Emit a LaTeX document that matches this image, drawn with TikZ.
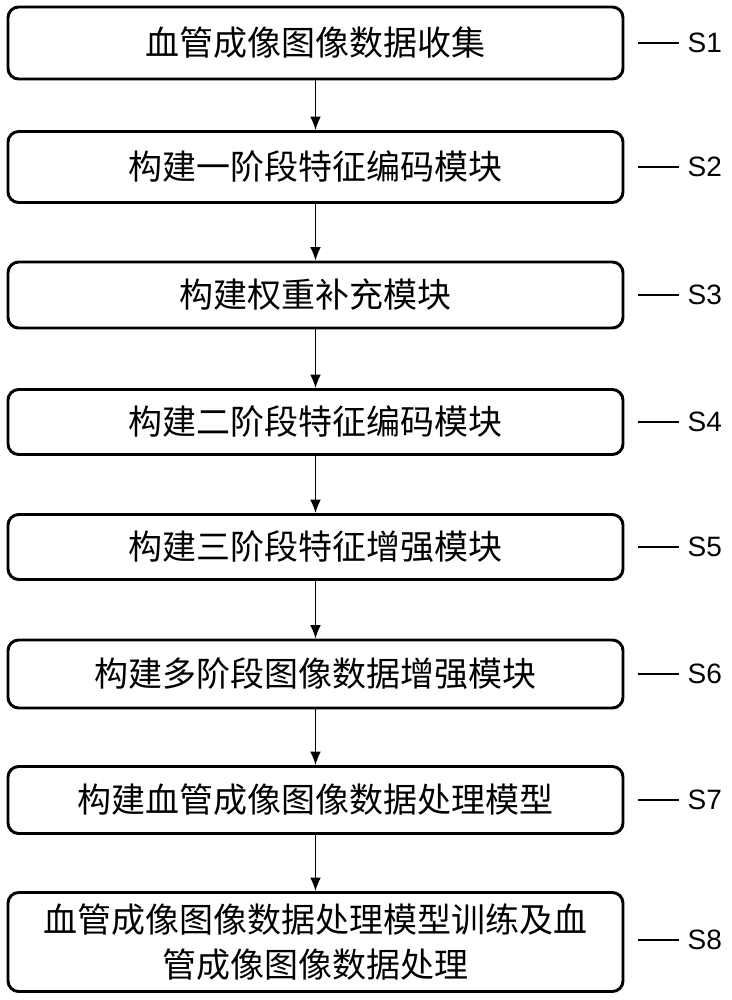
\documentclass[tikz,border=0pt]{standalone}
\usepackage{fontspec}
\setmainfont{Liberation Sans}
\newfontfamily\cjk{Noto Sans CJK SC}
\usetikzlibrary{arrows,arrows.meta}

\begin{document}
\begin{tikzpicture}
    [
      x=0.75pt,y=-0.75pt,
      stepbox/.style={draw=black,line width=2.2pt,rectangle,rounded corners=8pt,
        minimum width=615*0.75pt,align=center,inner sep=2pt,
        font=\cjk\fontsize{25.5}{34}\selectfont},
      flow/.style={-{Latex[length=10pt,width=8pt]},line width=1pt},
      tag/.style={font=\fontsize{21}{23}\selectfont,anchor=west,inner sep=1pt}
    ]
    \useasboundingbox (0,0) rectangle (732,1000);

    \node at (315.5,43) [stepbox,minimum height=72*0.75pt] (s1) {血管成像图像数据收集};
    \node at (315.5,167) [stepbox,minimum height=71*0.75pt] (s2) {构建一阶段特征编码模块};
    \node at (315.5,295) [stepbox,minimum height=66*0.75pt] (s3) {构建权重补充模块};
    \node at (315.5,422) [stepbox,minimum height=65*0.75pt] (s4) {构建二阶段特征编码模块};
    \node at (315.5,547) [stepbox,minimum height=65*0.75pt] (s5) {构建三阶段特征增强模块};
    \node at (315.5,674) [stepbox,minimum height=68*0.75pt] (s6) {构建多阶段图像数据增强模块};
    \node at (315.5,800) [stepbox,minimum height=67*0.75pt] (s7) {构建血管成像图像数据处理模型};
    \node at (315.5,942) [stepbox,minimum height=99*0.75pt] (s8) {血管成像图像数据处理模型训练及血\\管成像图像数据处理};

    % arrows between the steps
    \foreach \a/\b in {s1/s2,s2/s3,s3/s4,s4/s5,s5/s6,s6/s7,s7/s8}
      \draw [flow] (\a) -- (\b);

    % step tags
    \foreach \n/\y in {1/43,2/167,3/295,4/422,5/547,6/674,7/800,8/940} {
      \coordinate (t\n) at (638,\y);
      \node at (686,\y) [tag] (l\n) {S\n};
      \draw [line width=0.8pt] (t\n) -- ([xshift=-5pt]l\n.west);
    }
  \end{tikzpicture}
\end{document}
